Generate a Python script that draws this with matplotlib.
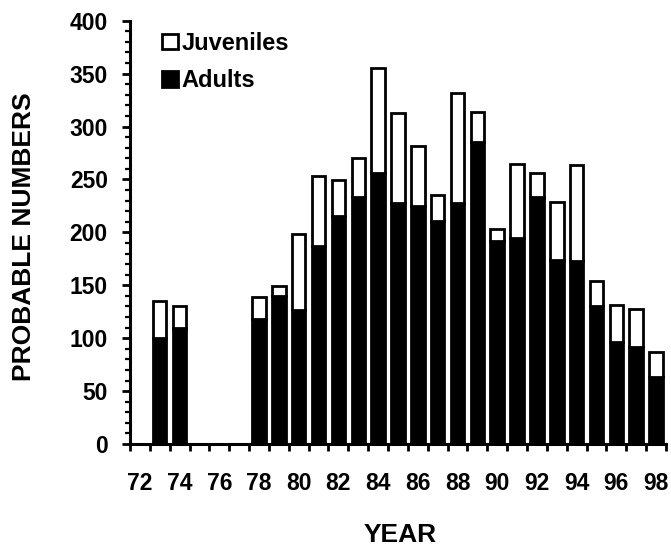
import matplotlib
matplotlib.use("Agg")
import matplotlib.pyplot as plt
from matplotlib.patches import Patch
from matplotlib.ticker import MultipleLocator, FixedLocator

plt.rcParams['font.family'] = ['Liberation Sans', 'DejaVu Sans']
plt.rcParams['font.weight'] = 'bold'

# Estimated numbers per year (totals and adult part); juveniles = total - adults
years = [73, 74, 78, 79, 80, 81, 82, 83, 84, 85, 86, 87, 88, 89,
         90, 91, 92, 93, 94, 95, 96, 97, 98]
totals = [135, 130, 139, 149, 198, 253, 249, 270, 355, 313, 282, 235, 332, 314,
          203, 265, 256, 229, 264, 154, 131, 128, 87]
adults = [100, 110, 118, 140, 127, 187, 215, 233, 256, 228, 225, 211, 228, 285,
          192, 195, 233, 174, 173, 130, 96, 92, 63]
juveniles = [t - a for t, a in zip(totals, adults)]

year_labels = list(range(72, 99, 2))

fig = plt.figure(figsize=(6.71, 5.5), dpi=100)
ax = fig.add_axes([0.1937, 0.1927, 0.7988, 0.7697])

bar_w = 0.68
ax.bar(years, adults, width=bar_w, color='black', edgecolor='black', linewidth=2.0)
ax.bar(years, juveniles, bottom=adults, width=bar_w, color='white',
       edgecolor='black', linewidth=2.0)

ax.set_xlim(71.5, 98.5)
ax.set_ylim(0, 400)

for side in ['top', 'right']:
    ax.spines[side].set_visible(False)
for side in ['left', 'bottom']:
    ax.spines[side].set_linewidth(2.2)

# y axis: labelled every 50, small ticks every 10
ax.yaxis.set_major_locator(MultipleLocator(50))
ax.yaxis.set_minor_locator(MultipleLocator(10))
ax.tick_params(axis='y', which='major', length=6, width=2, pad=10, labelsize=16.5)
ax.tick_params(axis='y', which='minor', length=3.5, width=1.6)

# x axis: ticks between years, labels on even years
ax.xaxis.set_major_locator(FixedLocator(year_labels))
ax.xaxis.set_minor_locator(FixedLocator([y + 0.5 for y in range(71, 99)]))
ax.set_xticklabels([str(y) for y in year_labels])
ax.tick_params(axis='x', which='major', length=0, pad=20, labelsize=16.5)
ax.tick_params(axis='x', which='minor', length=5, width=2)

fig.text(24 / 671, 1 - 237 / 550, 'PROBABLE NUMBERS', rotation=90,
         ha='center', va='center', fontsize=19)
fig.text(400 / 671, 1 - 535 / 550, 'YEAR', ha='center', va='center', fontsize=19)

handles = [Patch(facecolor='white', edgecolor='black', linewidth=2, label='Juveniles'),
           Patch(facecolor='black', edgecolor='black', linewidth=2, label='Adults')]
ax.legend(handles=handles, loc='upper left', bbox_to_anchor=(0.043, 0.996),
          frameon=False, fontsize=17, handlelength=0.65, handleheight=0.65,
          handletextpad=0.15, labelspacing=0.6, borderaxespad=0)

fig.savefig('out.png', dpi=100)
